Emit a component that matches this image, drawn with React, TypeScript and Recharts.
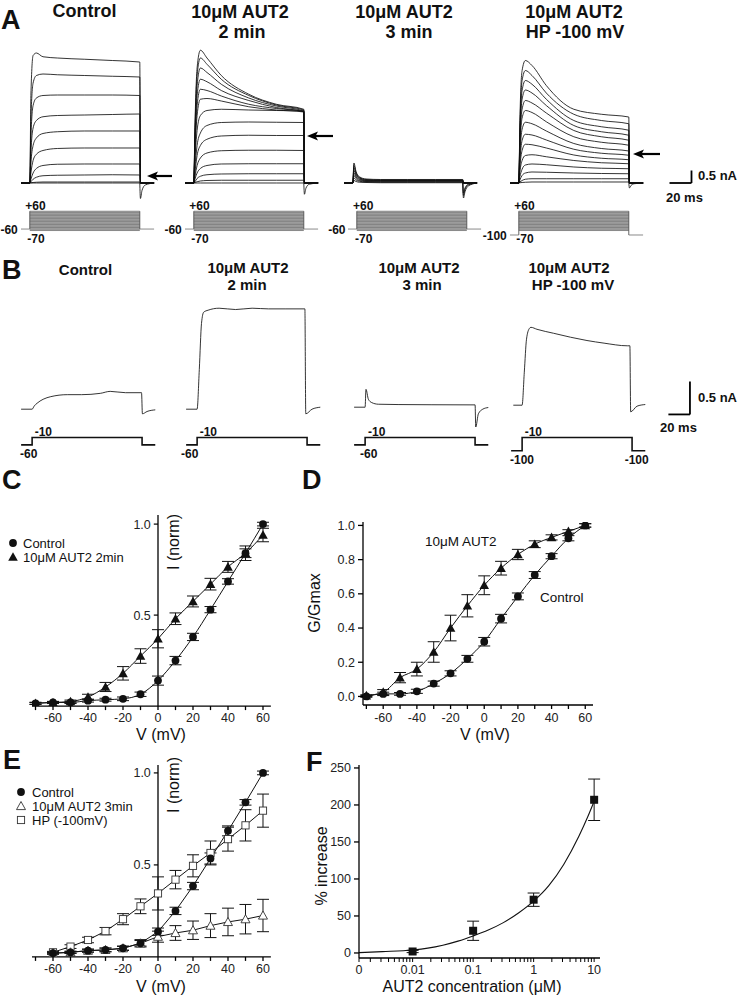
import React from 'react'
import {
  ComposedChart,
  Line,
  Scatter,
  XAxis,
  YAxis,
  ErrorBar,
  ReferenceLine,
  ReferenceArea,
} from 'recharts'

const FONT = '"Liberation Sans", Arial, Helvetica, sans-serif'
const INK = '#111'

// ---------- A: current families (nA) sampled at tA (ms) ----------
const tA = [-8, 0, 1, 3, 6, 12, 25, 50, 75, 100]

const ctrlA = [
  [0, 0, 3.5, 5.1, 5.2, 5.05, 5.0, 4.95, 4.9, 4.84],
  [0, 0, 2.5, 4.0, 4.3, 4.36, 4.33, 4.3, 4.27, 4.24],
  [0, 0, 1.8, 3.1, 3.4, 3.5, 3.52, 3.52, 3.52, 3.5],
  [0, 0, 1.2, 2.2, 2.5, 2.65, 2.7, 2.72, 2.74, 2.76],
  [0, 0, 0.8, 1.5, 1.8, 1.98, 2.05, 2.08, 2.08, 2.08],
  [0, 0, 0.4, 0.9, 1.15, 1.3, 1.38, 1.4, 1.4, 1.4],
  [0, 0, 0.15, 0.4, 0.58, 0.7, 0.75, 0.76, 0.76, 0.76],
  [0, 0, 0.05, 0.15, 0.23, 0.29, 0.31, 0.32, 0.33, 0.32],
  [0, 0, 0.01, 0.02, 0.03, 0.04, 0.04, 0.04, 0.04, 0.04],
  [0, 0, 0, 0, 0, 0, 0, 0, 0, 0],
]

const aut2A = [
  [0, 0, 2.2, 4.6, 5.31, 5.0, 4.3, 3.55, 3.15, 2.95],
  [0, 0, 2.0, 4.3, 5.0, 4.75, 4.15, 3.5, 3.12, 2.92],
  [0, 0, 1.8, 3.9, 4.6, 4.42, 3.95, 3.4, 3.08, 2.88],
  [0, 0, 1.6, 3.5, 4.15, 4.05, 3.7, 3.3, 3.02, 2.85],
  [0, 0, 1.4, 3.1, 3.75, 3.7, 3.48, 3.15, 2.98, 2.86],
  [0, 0, 1.2, 2.7, 3.35, 3.38, 3.28, 3.05, 2.92, 2.84],
  [0, 0, 0.9, 2.1, 2.7, 2.9, 2.95, 2.92, 2.9, 2.88],
  [0, 0, 0.6, 1.5, 2.0, 2.3, 2.42, 2.44, 2.43, 2.42],
  [0, 0, 0.4, 1.1, 1.5, 1.75, 1.88, 1.91, 1.9, 1.9],
  [0, 0, 0.25, 0.7, 1.0, 1.2, 1.29, 1.31, 1.31, 1.3],
  [0, 0, 0.15, 0.4, 0.58, 0.7, 0.76, 0.77, 0.77, 0.77],
  [0, 0, 0.05, 0.18, 0.27, 0.33, 0.36, 0.37, 0.37, 0.37],
  [0, 0, 0.02, 0.05, 0.08, 0.1, 0.11, 0.11, 0.11, 0.11],
  [0, 0, 0, 0, 0, 0, 0, 0, 0, 0],
]

const aut3A = [
  [0, 0, 0.8, 0.45, 0.25, 0.16, 0.14, 0.14, 0.14, 0.14],
  [0, 0, 0.7, 0.4, 0.22, 0.14, 0.12, 0.12, 0.12, 0.12],
  [0, 0, 0.6, 0.35, 0.2, 0.12, 0.1, 0.1, 0.1, 0.1],
  [0, 0, 0.5, 0.3, 0.17, 0.1, 0.09, 0.09, 0.09, 0.09],
  [0, 0, 0.4, 0.24, 0.14, 0.08, 0.07, 0.07, 0.07, 0.07],
  [0, 0, 0.3, 0.18, 0.1, 0.06, 0.05, 0.05, 0.05, 0.05],
  [0, 0, 0.2, 0.12, 0.07, 0.04, 0.03, 0.03, 0.03, 0.03],
  [0, 0, 0.1, 0.06, 0.03, 0.02, 0.01, 0.01, 0.01, 0.01],
]

const hpA = [
  [0, 0, 2.5, 4.5, 4.9, 4.7, 3.9, 2.95, 2.75, 2.64],
  [0, 0, 2.2, 4.1, 4.5, 4.3, 3.6, 2.75, 2.5, 2.37],
  [0, 0, 2.0, 3.7, 4.1, 3.95, 3.35, 2.5, 2.25, 2.11],
  [0, 0, 1.8, 3.35, 3.72, 3.6, 3.1, 2.3, 2.05, 1.91],
  [0, 0, 1.6, 2.95, 3.3, 3.2, 2.8, 2.1, 1.85, 1.71],
  [0, 0, 1.4, 2.6, 2.9, 2.82, 2.45, 1.85, 1.63, 1.51],
  [0, 0, 1.1, 2.15, 2.43, 2.37, 2.08, 1.58, 1.38, 1.28],
  [0, 0, 0.85, 1.7, 1.95, 1.92, 1.72, 1.35, 1.19, 1.11],
  [0, 0, 0.65, 1.3, 1.55, 1.53, 1.4, 1.12, 0.99, 0.93],
  [0, 0, 0.45, 0.9, 1.1, 1.13, 1.05, 0.9, 0.81, 0.77],
  [0, 0, 0.25, 0.55, 0.72, 0.76, 0.73, 0.64, 0.59, 0.57],
  [0, 0, 0.12, 0.3, 0.4, 0.44, 0.43, 0.4, 0.38, 0.37],
  [0, 0, 0.04, 0.1, 0.15, 0.17, 0.17, 0.17, 0.17, 0.17],
  [0, 0, 0.01, 0.02, 0.03, 0.04, 0.04, 0.04, 0.04, 0.04],
]

// tail currents after the pulse (nA) at tTail (ms)
const tTail = [100, 100.6, 102, 105, 113]
const ctrlTailA = [[0, -0.62, -0.3, -0.08, 0]]
const aut2TailA = [[0, -0.45, -0.2, -0.05, 0]]
const aut3TailA = [
  [0, -0.6, -0.35, -0.12, 0],
  [0, -0.5, -0.25, -0.08, 0],
  [0, -0.4, -0.2, -0.05, 0],
]
const hpTailA = [[0, -0.2, -0.1, -0.03, 0]]

const stepsA = [-70, -60, -50, -40, -30, -20, -10, 0, 10, 20, 30, 40, 50, 60]

// ---------- B: single step to -10 mV ----------
const bCtrlT = [-10, 0, 2, 4.5, 10, 17, 32, 45, 62, 71, 85, 99.5, 100.3, 104.5, 112]
const bCtrlI = [0, 0, 0.05, 0.09, 0.15, 0.19, 0.22, 0.22, 0.24, 0.27, 0.25, 0.25, -0.07, -0.035, -0.01]
const b2T = [-10, 0, 2, 4, 6, 10, 20, 35, 50, 65, 80, 98, 98.8, 104.5, 112]
const b2I = [0, 0, 0.6, 1.3, 1.47, 1.5, 1.53, 1.51, 1.53, 1.52, 1.52, 1.52, -0.07, 0.0, 0.03]
const b3T = [-10, 0, 0.8, 3, 6, 12, 30, 60, 100, 100.6, 103, 107, 112]
const b3I = [0, 0, 0.27, 0.12, 0.07, 0.045, 0.04, 0.037, 0.035, -0.3, -0.1, -0.03, -0.005]
const bHpT = [-8, 0, 2, 4, 6.5, 8, 13.5, 28.6, 44, 59, 74.5, 95.6, 98, 98.7, 104.5, 112]
const bHpI = [0, 0, 0.5, 1.0, 1.16, 1.18, 1.15, 1.09, 1.03, 0.98, 0.94, 0.9, 0.9, -0.1, -0.015, 0.01]

// ---------- C: I-V, control vs 2 min AUT2 ----------
const vC = [-70, -60, -50, -40, -30, -20, -10, 0, 10, 20, 30, 40, 50, 60]
const cCtrl = [0.015, 0.02, 0.02, 0.03, 0.035, 0.04, 0.065, 0.14, 0.25, 0.38, 0.53, 0.685, 0.84, 1.0]
const cCtrlErr = [0.005, 0.005, 0.006, 0.008, 0.008, 0.01, 0.012, 0.025, 0.023, 0.02, 0.017, 0.015, 0.024, 0.01]
const cAut = [0.015, 0.02, 0.025, 0.05, 0.105, 0.18, 0.275, 0.37, 0.48, 0.575, 0.67, 0.765, 0.84, 0.94]
const cAutErr = [0.006, 0.006, 0.008, 0.015, 0.025, 0.037, 0.04, 0.05, 0.032, 0.03, 0.032, 0.03, 0.04, 0.037]

// ---------- D: activation curves ----------
const vD = [-70, -60, -50, -40, -30, -20, -10, 0, 10, 20, 30, 40, 50, 60]
const dCtrl = [0.0, 0.015, 0.015, 0.03, 0.075, 0.135, 0.22, 0.32, 0.455, 0.585, 0.71, 0.82, 0.925, 1.0]
const dCtrlErr = [0.005, 0.01, 0.008, 0.012, 0.015, 0.015, 0.02, 0.025, 0.025, 0.02, 0.02, 0.015, 0.015, 0.01]
const dAut = [0.005, 0.025, 0.11, 0.16, 0.26, 0.4, 0.53, 0.65, 0.75, 0.83, 0.89, 0.93, 0.965, 1.0]
const dAutErr = [0.005, 0.015, 0.03, 0.04, 0.06, 0.075, 0.065, 0.055, 0.04, 0.03, 0.02, 0.015, 0.01, 0.01]

// ---------- E: I-V, control vs 3 min AUT2 vs HP -100 ----------
const vE = [-60, -50, -40, -30, -20, -10, 0, 10, 20, 30, 40, 50, 60]
const eCtrl = [0.02, 0.025, 0.034, 0.038, 0.047, 0.074, 0.137, 0.25, 0.385, 0.535, 0.685, 0.84, 1.0]
const eCtrlErr = [0.005, 0.005, 0.008, 0.01, 0.01, 0.015, 0.02, 0.02, 0.02, 0.03, 0.027, 0.015, 0.01]
const eAut = [0.02, 0.025, 0.034, 0.038, 0.047, 0.074, 0.11, 0.13, 0.145, 0.17, 0.19, 0.205, 0.225]
const eAutErr = [0.005, 0.006, 0.008, 0.01, 0.012, 0.02, 0.03, 0.04, 0.05, 0.065, 0.075, 0.08, 0.088]
const eHp = [0.025, 0.056, 0.092, 0.14, 0.205, 0.275, 0.345, 0.42, 0.495, 0.565, 0.64, 0.715, 0.795]
const eHpErr = [0.005, 0.01, 0.015, 0.02, 0.03, 0.04, 0.09, 0.05, 0.06, 0.065, 0.065, 0.085, 0.09]

// ---------- F: concentration-response ----------
const fConc = [0.01, 0.1, 1, 10]
const fInc = [2, 30, 72, 207]
const fErr = [1.5, 13, 9, 28]
const fitConc = [0.0013, 0.00316, 0.01, 0.0178, 0.0316, 0.0562, 0.1, 0.178, 0.316, 0.562, 1, 1.78, 3.16, 5.62, 7.94, 10]
const fitInc = [0.5, 1.8, 4, 6.5, 10.5, 16, 23, 31, 41, 54, 70, 91, 120, 158, 185, 205]
const fMajor = [0.0013, 0.01, 0.1, 1, 10]
const fMajorLbl = ['0', '0.01', '0.1', '1', '10']
const fMinor = [
  0.002, 0.003, 0.004, 0.005, 0.006, 0.007, 0.008, 0.009,
  0.02, 0.03, 0.04, 0.05, 0.06, 0.07, 0.08, 0.09,
  0.2, 0.3, 0.4, 0.5, 0.6, 0.7, 0.8, 0.9,
  2, 3, 4, 5, 6, 7, 8, 9,
]

const vTicks = [-70, -60, -50, -40, -30, -20, -10, 0, 10, 20, 30, 40, 50, 60]
const fmtV = (v: number) => (v % 20 === 0 ? String(v) : '')

// ---------- helpers ----------
const PAD = 10
type Box = { x: number; y: number; w: number; h: number }

const Plot = ({ box, yw = 0, xh = 0, children }: { box: Box; yw?: number; xh?: number; children: React.ReactNode }) => (
  <div style={{ position: 'absolute', left: box.x - yw - PAD, top: box.y - PAD }}>
    <ComposedChart
      width={box.w + yw + 2 * PAD}
      height={box.h + xh + 2 * PAD}
      margin={{ top: PAD, right: PAD, bottom: PAD, left: PAD }}
    >
      {children}
    </ComposedChart>
  </div>
)

const Txt = ({
  x, y, size = 13, bold = false, anchor = 'start', rotate = false, children,
}: {
  x: number; y: number; size?: number; bold?: boolean; anchor?: 'start' | 'middle' | 'end'; rotate?: boolean; children: React.ReactNode
}) => {
  const tx = anchor === 'middle' || rotate ? '-50%' : anchor === 'end' ? '-100%' : '0'
  return (
    <div
      style={{
        position: 'absolute', left: x, top: y, fontSize: size, lineHeight: 1, fontWeight: bold ? 700 : 400,
        whiteSpace: 'nowrap', color: '#111', fontFamily: FONT,
        transform: `translate(${tx}, -50%)${rotate ? ' rotate(-90deg)' : ''}`,
      }}
    >
      {children}
    </div>
  )
}

const circleShape = (p: any) => <circle cx={p.cx} cy={p.cy} r={3.9} fill={INK} />
const triShape = (p: any) => (
  <polygon points={`${p.cx},${p.cy - 4.8} ${p.cx - 4.8},${p.cy + 3.8} ${p.cx + 4.8},${p.cy + 3.8}`} fill={INK} />
)
const openTriShape = (p: any) => (
  <polygon points={`${p.cx},${p.cy - 4.5} ${p.cx - 4.5},${p.cy + 3.6} ${p.cx + 4.5},${p.cy + 3.6}`} fill="#fff" stroke="#333" strokeWidth={0.9} />
)
const openSqShape = (p: any) => (
  <rect x={p.cx - 3.6} y={p.cy - 3.6} width={7.2} height={7.2} fill="#fff" stroke="#333" strokeWidth={0.9} />
)
const sqShape = (p: any) => <rect x={p.cx - 4} y={p.cy - 4} width={8} height={8} fill={INK} />

const Mark = ({ x, y, shape }: { x: number; y: number; shape: (p: any) => React.ReactElement }) => (
  <svg style={{ position: 'absolute', left: x - 7, top: y - 7 }} width={14} height={14}>
    {shape({ cx: 7, cy: 7 })}
  </svg>
)

const Arrow = ({ tip, tail, y }: { tip: number; tail: number; y: number }) => (
  <svg style={{ position: 'absolute', left: tip - 1, top: y - 6 }} width={tail - tip + 2} height={12}>
    <line x1={8} y1={6} x2={tail - tip + 1} y2={6} stroke="#000" strokeWidth={2.2} />
    <polygon points="1,6 12,1.5 9.5,6 12,10.5" fill="#000" />
  </svg>
)

const rowsToData = (rows: number[][], t: number[], endT?: number[]) =>
  rows.map((r) => {
    const d = t.map((tt, k) => ({ t: tt, i: r[k] }))
    return endT ? d.concat(endT.map((tt) => ({ t: tt, i: 0 }))) : d
  })

const xyData = (t: number[], i: number[]) => t.map((tt, k) => ({ t: tt, i: i[k] }))

type FamProps = {
  x0: number; base: number; pxNa: number; t1: number; i0: number; i1: number; t0: number
  lines: { t: number; i: number }[][]; children?: React.ReactNode
}
const PX_MS = 1.1

const TraceFamily = ({ x0, base, pxNa, t0, t1, i0, i1, lines, children }: FamProps) => {
  const box = { x: x0 + t0 * PX_MS, y: base - i1 * pxNa, w: (t1 - t0) * PX_MS, h: (i1 - i0) * pxNa }
  return (
    <Plot box={box}>
      <XAxis type="number" dataKey="t" domain={[t0, t1]} hide allowDataOverflow />
      <YAxis type="number" domain={[i0, i1]} hide allowDataOverflow />
      {lines.map((d, k) => (
        <Line key={k} data={d} dataKey="i" type="monotone" dot={false} activeDot={false}
          stroke={INK} strokeWidth={0.85} isAnimationActive={false} />
      ))}
      {children}
    </Plot>
  )
}

const PX_MV = 0.1486
const ProtoA = ({ x0, hold }: { x0: number; hold: number }) => {
  const box = { x: x0 - 8 * PX_MS, y: 211.7 - 15 * PX_MV, w: 122 * PX_MS, h: 185 * PX_MV }
  return (
    <Plot box={box}>
      <XAxis type="number" dataKey="t" domain={[-8, 114]} hide allowDataOverflow />
      <YAxis type="number" domain={[-110, 75]} hide allowDataOverflow />
      <ReferenceArea x1={0} x2={100} y1={-70} y2={60} fill="#b9b9b9" fillOpacity={1} stroke="none" />
      {stepsA.map((v) => (
        <Line key={v} data={[{ t: 0, v }, { t: 100, v }]} dataKey="v" type="linear" dot={false}
          stroke="#6b6b6b" strokeWidth={0.75} isAnimationActive={false} />
      ))}
      <Line data={[{ t: -8, v: hold }, { t: 0, v: hold }]} dataKey="v" type="linear" dot={false}
        stroke="#8a8a8a" strokeWidth={1} isAnimationActive={false} />
      <Line data={[{ t: 100, v: hold }, { t: 113, v: hold }]} dataKey="v" type="linear" dot={false}
        stroke="#8a8a8a" strokeWidth={1} isAnimationActive={false} />
      <Line data={[{ t: 0, v: hold }, { t: 0, v: 60 }]} dataKey="v" type="linear" dot={false}
        stroke="#555" strokeWidth={0.9} isAnimationActive={false} />
      <Line data={[{ t: 100, v: hold }, { t: 100, v: 60 }]} dataKey="v" type="linear" dot={false}
        stroke="#555" strokeWidth={0.9} isAnimationActive={false} />
    </Plot>
  )
}

const ProtoB = ({ x0, hold }: { x0: number; hold: number }) => {
  const box = { x: x0 - 11 * PX_MS, y: 437 - 10 * 0.148, w: 127 * PX_MS, h: 110 * 0.148 }
  const d = [
    { t: -10, v: hold }, { t: 0, v: hold }, { t: 0, v: -10 },
    { t: 100, v: -10 }, { t: 100, v: hold }, { t: 112, v: hold },
  ]
  return (
    <Plot box={box}>
      <XAxis type="number" dataKey="t" domain={[-11, 116]} hide allowDataOverflow />
      <YAxis type="number" domain={[-110, 0]} hide />
      <Line data={d} dataKey="v" type="linear" dot={false} stroke={INK} strokeWidth={1.6} isAnimationActive={false} />
    </Plot>
  )
}

const tickStyle = { fill: '#222', fontSize: 12.5, fontFamily: FONT }
const axisStroke = { stroke: '#000', strokeWidth: 1.3 }

const pts = (x: number[], y: number[], e: number[]) => x.map((v, k) => ({ v, y: y[k], e: e[k] }))

const yTickC = (y: number, lbl: string) => (
  <ReferenceLine key={lbl} segment={[{ x: -2.4, y }, { x: 0, y }]} stroke="#000" strokeWidth={1.2}
    label={{ value: lbl, position: 'left', offset: 3, fill: '#222', fontSize: 12.5, fontFamily: FONT }} />
)

const IVPanel = ({ top, yTop, series }: { top: number; yTop: number; series: React.ReactNode }) => {
  const pxU = top === 515 ? 182 : 184
  const box = { x: 31.7, y: top, w: 136.5 * 1.75, h: yTop * pxU }
  return (
    <Plot box={box} xh={30}>
      <XAxis type="number" dataKey="v" domain={[-72, 64.5]} ticks={vTicks} tickFormatter={fmtV}
        height={30} tickSize={4} tickMargin={3} axisLine={axisStroke} tickLine={axisStroke}
        tick={tickStyle} interval={0} allowDataOverflow />
      <YAxis type="number" hide domain={[0, yTop]} allowDataOverflow />
      <ReferenceLine x={0} stroke="#000" strokeWidth={1.3} />
      {yTickC(0.5, '0.5')}
      {yTickC(1.0, '1.0')}
      {series}
    </Plot>
  )
}

export default function App() {
  const ctrlLines = rowsToData(ctrlA, tA, [100.6, 113]).concat(
    ctrlTailA.map((r) => tTail.map((t, k) => ({ t, i: r[k] }))))
  const aut2Lines = rowsToData(aut2A, tA, [100.6, 113]).concat(
    aut2TailA.map((r) => tTail.map((t, k) => ({ t, i: r[k] }))))
  const aut3Lines = rowsToData(aut3A, tA, [100.6, 113]).concat(
    aut3TailA.map((r) => tTail.map((t, k) => ({ t, i: r[k] }))))
  const hpLines = rowsToData(hpA, tA, [100.6, 113]).concat(
    hpTailA.map((r) => tTail.map((t, k) => ({ t, i: r[k] }))))

  const cC = pts(vC, cCtrl, cCtrlErr)
  const cA = pts(vC, cAut, cAutErr)
  const dC = pts(vD, dCtrl, dCtrlErr)
  const dA = pts(vD, dAut, dAutErr)
  const eC = pts(vE, eCtrl, eCtrlErr)
  const eA = pts(vE, eAut, eAutErr)
  const eH = pts(vE, eHp, eHpErr)
  const fP = fConc.map((c, k) => ({ c, y: fInc[k], e: fErr[k] }))
  const fFit = fitConc.map((c, k) => ({ c, y: fitInc[k] }))

  const eb = (w = 6) => (
    <ErrorBar dataKey="e" width={w} stroke={INK} strokeWidth={1} direction="y" isAnimationActive={false} />
  )

  return (
    <div style={{ position: 'absolute', left: 0, top: 0, width: 739, height: 998, background: '#fff', fontFamily: FONT, overflow: 'hidden' }}>
      {/* ---------------- A ---------------- */}
      <Txt x={1} y={20} size={27} bold>A</Txt>
      <Txt x={84.5} y={11} size={18} bold anchor="middle">Control</Txt>
      <Txt x={240} y={12} size={18} bold anchor="middle">10μM AUT2</Txt>
      <Txt x={242} y={32} size={18} bold anchor="middle">2 min</Txt>
      <Txt x={404} y={12} size={18} bold anchor="middle">10μM AUT2</Txt>
      <Txt x={409} y={32} size={18} bold anchor="middle">3 min</Txt>
      <Txt x={574} y={12} size={18} bold anchor="middle">10μM AUT2</Txt>
      <Txt x={575} y={32} size={18} bold anchor="middle">HP -100 mV</Txt>

      <TraceFamily x0={29.3} base={183} pxNa={25} t0={-8} t1={114} i0={-0.8} i1={5.6} lines={ctrlLines} />
      <TraceFamily x0={193.3} base={183} pxNa={25} t0={-8} t1={114} i0={-0.8} i1={5.6} lines={aut2Lines} />
      <TraceFamily x0={353} base={183} pxNa={25} t0={-8} t1={114} i0={-0.8} i1={5.6} lines={aut3Lines} />
      <TraceFamily x0={518.3} base={183} pxNa={25} t0={-8} t1={160} i0={-0.8} i1={5.6} lines={hpLines}>
        <ReferenceLine segment={[{ x: 137, y: 0 }, { x: 157, y: 0 }]} stroke="#000" strokeWidth={1.8} />
        <ReferenceLine segment={[{ x: 157, y: 0 }, { x: 157, y: 0.5 }]} stroke="#000" strokeWidth={1.8} />
      </TraceFamily>
      <Txt x={698} y={175} size={13} bold>0.5 nA</Txt>
      <Txt x={666} y={197} size={13} bold>20 ms</Txt>

      <Arrow tip={147} tail={172} y={176} />
      <Arrow tip={307} tail={333} y={135.7} />
      <Arrow tip={633} tail={660} y={154} />

      {[
        { x0: 29.3, hold: -60, lbl: '-60' },
        { x0: 193.3, hold: -60, lbl: '-60' },
        { x0: 357, hold: -60, lbl: '-60' },
        { x0: 518.3, hold: -100, lbl: '-100' },
      ].map((p) => (
        <React.Fragment key={p.x0}>
          <ProtoA x0={p.x0} hold={p.hold} />
          <Txt x={p.x0 - 4} y={206} size={12} bold>+60</Txt>
          <Txt x={p.x0 - 2} y={238.5} size={12} bold>-70</Txt>
          <Txt x={p.x0 - 11.5} y={p.hold === -60 ? 229.5 : 235.7} size={12} bold anchor="end">{p.lbl}</Txt>
        </React.Fragment>
      ))}

      {/* ---------------- B ---------------- */}
      <Txt x={2} y={270} size={27} bold>B</Txt>
      <Txt x={85.5} y={269} size={15} bold anchor="middle">Control</Txt>
      <Txt x={248} y={267} size={15} bold anchor="middle">10μM AUT2</Txt>
      <Txt x={247} y={284} size={15} bold anchor="middle">2 min</Txt>
      <Txt x={419} y={267} size={15} bold anchor="middle">10μM AUT2</Txt>
      <Txt x={422} y={284} size={15} bold anchor="middle">3 min</Txt>
      <Txt x={569} y={267} size={15} bold anchor="middle">10μM AUT2</Txt>
      <Txt x={573} y={284} size={15} bold anchor="middle">HP -100 mV</Txt>

      <TraceFamily x0={31.7} base={409.3} pxNa={66} t0={-11} t1={116} i0={-0.5} i1={1.7} lines={[xyData(bCtrlT, bCtrlI)]} />
      <TraceFamily x0={196.7} base={408.7} pxNa={66} t0={-11} t1={116} i0={-0.5} i1={1.7} lines={[xyData(b2T, b2I)]} />
      <TraceFamily x0={365} base={406.7} pxNa={66} t0={-11} t1={116} i0={-0.5} i1={1.7} lines={[xyData(b3T, b3I)]} />
      <TraceFamily x0={521.7} base={405} pxNa={66} t0={-11} t1={160} i0={-0.5} i1={1.7} lines={[xyData(bHpT, bHpI)]}>
        <ReferenceLine segment={[{ x: 133, y: -0.14 }, { x: 152.6, y: -0.14 }]} stroke="#000" strokeWidth={1.8} />
        <ReferenceLine segment={[{ x: 152.6, y: -0.14 }, { x: 152.6, y: 0.36 }]} stroke="#000" strokeWidth={1.8} />
      </TraceFamily>
      <Txt x={698} y={397} size={13} bold>0.5 nA</Txt>
      <Txt x={660} y={427} size={13} bold>20 ms</Txt>

      {[
        { x0: 31.7, hold: -60, lx: 20 },
        { x0: 196.7, hold: -60, lx: 181 },
        { x0: 365, hold: -60, lx: 360 },
        { x0: 521.7, hold: -100, lx: 510 },
      ].map((p) => (
        <React.Fragment key={p.x0}>
          <ProtoB x0={p.x0} hold={p.hold} />
          <Txt x={p.x0 + 3} y={431.7} size={12} bold>-10</Txt>
          <Txt x={p.lx} y={p.hold === -60 ? 454 : 460} size={12} bold>{p.hold === -60 ? '-60' : '-100'}</Txt>
        </React.Fragment>
      ))}
      <Txt x={521.7 + 103} y={460} size={12} bold>-100</Txt>

      {/* ---------------- C ---------------- */}
      <Txt x={2} y={480} size={27} bold>C</Txt>
      <IVPanel
        top={515}
        yTop={1.05}
        series={[
          <Line key="lc" data={cC} dataKey="y" type="monotone" dot={false} activeDot={false} stroke={INK} strokeWidth={1} isAnimationActive={false} />,
          <Line key="la" data={cA} dataKey="y" type="monotone" dot={false} activeDot={false} stroke={INK} strokeWidth={1} isAnimationActive={false} />,
          <Scatter key="sc" data={cC} dataKey="y" shape={circleShape} isAnimationActive={false}>{eb()}</Scatter>,
          <Scatter key="sa" data={cA} dataKey="y" shape={triShape} isAnimationActive={false}>{eb()}</Scatter>,
        ]}
      />
      <Mark x={13} y={543} shape={circleShape} />
      <Txt x={23} y={543} size={13}>Control</Txt>
      <Mark x={13} y={557} shape={triShape} />
      <Txt x={23} y={557} size={13}>10μM AUT2 2min</Txt>
      <Txt x={161} y={735} size={16} anchor="middle">V (mV)</Txt>
      <Txt x={174} y={542} size={16} rotate>I (norm)</Txt>

      {/* ---------------- D ---------------- */}
      <Txt x={302} y={480} size={27} bold>D</Txt>
      <Plot box={{ x: 363, y: 522, w: 230, h: 183 }} yw={40} xh={30}>
        <XAxis type="number" dataKey="v" domain={[-72, 64.6]} ticks={vTicks} tickFormatter={fmtV}
          height={30} tickSize={4} tickMargin={4} axisLine={axisStroke} tickLine={axisStroke}
          tick={tickStyle} interval={0} allowDataOverflow />
        <YAxis type="number" domain={[-0.05, 1.02]} ticks={[0, 0.2, 0.4, 0.6, 0.8, 1.0]}
          tickFormatter={(v: number) => v.toFixed(1)} width={40} tickSize={5} tickMargin={3}
          axisLine={axisStroke} tickLine={axisStroke} tick={tickStyle} interval={0} allowDataOverflow />
        <Line data={dC} dataKey="y" type="monotone" dot={false} activeDot={false} stroke={INK} strokeWidth={1} isAnimationActive={false} />
        <Line data={dA} dataKey="y" type="monotone" dot={false} activeDot={false} stroke={INK} strokeWidth={1} isAnimationActive={false} />
        <Scatter data={dC} dataKey="y" shape={circleShape} isAnimationActive={false}>{eb()}</Scatter>
        <Scatter data={dA} dataKey="y" shape={triShape} isAnimationActive={false}>{eb()}</Scatter>
      </Plot>
      <Txt x={425} y={542} size={13.5}>10μM AUT2</Txt>
      <Txt x={540} y={598} size={13.5}>Control</Txt>
      <Txt x={485} y={735} size={16} anchor="middle">V (mV)</Txt>
      <Txt x={315} y={603} size={16} rotate>G/Gmax</Txt>

      {/* ---------------- E ---------------- */}
      <Txt x={3} y={760} size={27} bold>E</Txt>
      <IVPanel
        top={765}
        yTop={1.043}
        series={[
          <Line key="le" data={eC} dataKey="y" type="linear" dot={false} activeDot={false} stroke={INK} strokeWidth={1} isAnimationActive={false} />,
          <Line key="la" data={eA} dataKey="y" type="linear" dot={false} activeDot={false} stroke={INK} strokeWidth={1} isAnimationActive={false} />,
          <Line key="lh" data={eH} dataKey="y" type="linear" dot={false} activeDot={false} stroke={INK} strokeWidth={1} isAnimationActive={false} />,
          <Scatter key="sh" data={eH} dataKey="y" shape={openSqShape} isAnimationActive={false}>{eb()}</Scatter>,
          <Scatter key="sa" data={eA} dataKey="y" shape={openTriShape} isAnimationActive={false}>{eb()}</Scatter>,
          <Scatter key="sc" data={eC} dataKey="y" shape={circleShape} isAnimationActive={false}>{eb()}</Scatter>,
        ]}
      />
      <Mark x={21} y={792} shape={circleShape} />
      <Txt x={32} y={792} size={13}>Control</Txt>
      <Mark x={21} y={806} shape={openTriShape} />
      <Txt x={32} y={806} size={13}>10μM AUT2 3min</Txt>
      <Mark x={21} y={820} shape={openSqShape} />
      <Txt x={32} y={820} size={13}>HP (-100mV)</Txt>
      <Txt x={161} y={987} size={16} anchor="middle">V (mV)</Txt>
      <Txt x={174} y={785} size={16} rotate>I (norm)</Txt>

      {/* ---------------- F ---------------- */}
      <Txt x={306} y={762} size={27} bold>F</Txt>
      <Plot box={{ x: 359, y: 765, w: 241, h: 193 }} yw={40} xh={30}>
        <XAxis type="number" dataKey="c" scale="log" domain={[0.0013, 12.5]} ticks={[...fMajor, ...fMinor]}
          tickFormatter={(v: number) => { const k = fMajor.indexOf(v); return k >= 0 ? fMajorLbl[k] : '' }}
          height={30} tickSize={4} tickMargin={3} axisLine={axisStroke} tickLine={{ stroke: '#000', strokeWidth: 1 }}
          tick={tickStyle} interval={0} allowDataOverflow />
        <YAxis type="number" domain={[-6.8, 254]} ticks={[0, 50, 100, 150, 200, 250]} width={40}
          tickSize={5} tickMargin={3} axisLine={axisStroke} tickLine={axisStroke} tick={tickStyle}
          interval={0} allowDataOverflow />
        <Line data={fFit} dataKey="y" type="monotone" dot={false} activeDot={false} stroke={INK} strokeWidth={1.1} isAnimationActive={false} />
        <Scatter data={fP} dataKey="y" shape={sqShape} isAnimationActive={false}>{eb(6)}</Scatter>
      </Plot>
      <Txt x={472} y={987} size={16} anchor="middle">AUT2 concentration (μM)</Txt>
      <Txt x={322} y={866} size={16} rotate>% increase</Txt>
    </div>
  )
}
